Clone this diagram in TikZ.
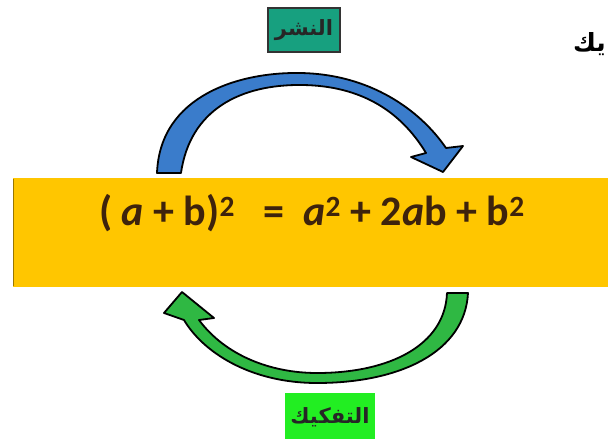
\documentclass[tikz,border=0pt]{standalone}
\usepackage{fontspec}
\setmainfont{Carlito}
\newfontfamily\arabicfont[Script=Arabic]{DejaVu Sans}
\TeXXeTstate=1
\definecolor{band}{HTML}{FFC600}
\definecolor{eqcol}{HTML}{3E230C}
\definecolor{arrblue}{HTML}{3A7CCB}
\definecolor{arrgreen}{HTML}{2FB843}
\definecolor{tealbox}{HTML}{17A07F}
\definecolor{greenbox}{HTML}{22EE22}
\tikzset{
  arrshape/.style={draw=black, line width=1.8pt, line join=round},
  lbl/.style={inner sep=2pt, text=black!85, font=\arabicfont\bfseries\fontsize{21}{23}\selectfont}
}
\begin{document}
\begin{tikzpicture}[x=1pt,y=-1pt]
\useasboundingbox (0,0) rectangle (608,439);
\fill[white] (0,0) rectangle (608,439);
% yellow band
\fill[band] (13,178) rectangle (608,287);
\draw[band!60!black, line width=0.8pt] (13,179) -- (13,286);
\node[font=\bfseries\fontsize{42}{44}\selectfont, text=eqcol] (eq) at (312,213)
  {( \textit{a} + b)\textsuperscript{2} \ \ =\ \ \textit{a}\textsuperscript{2} + 2\textit{a}b + b\textsuperscript{2}};
% top blue arrow
\path[arrshape, fill=arrblue]
  (157,173) .. controls (160,95) and (240,72) .. (300,73)
  .. controls (370,74) and (420,110) .. (446,148)
  -- (463,146) -- (443,172) -- (411,157) -- (426,153)
  .. controls (400,110) and (360,86) .. (303,85)
  .. controls (240,84) and (190,110) .. (181,173) -- cycle;
% bottom green arrow
\path[arrshape, fill=arrgreen]
  (468,293) .. controls (465,352) and (400,383) .. (317,383)
  .. controls (250,383) and (203,352) .. (184,320)
  -- (164,313) -- (182,292) -- (214,318) -- (199,320)
  .. controls (225,355) and (270,373) .. (317,373)
  .. controls (390,373) and (445,345) .. (447,293) -- cycle;
% labels
\node[lbl, fill=tealbox, draw=black!80, line width=1.2pt, minimum width=72pt, minimum height=44pt] (top) at (304,30) {\beginR النشر\endR};
\node[lbl, fill=greenbox, minimum width=90pt, minimum height=48pt, anchor=north] (bot) at (330,393) {\beginR التفكيك\endR};
\node[font=\arabicfont\bfseries\fontsize{25}{27}\selectfont, anchor=east, inner sep=0pt] (corner) at (606,44) {\beginR يك\endR};
\end{tikzpicture}
\end{document}
